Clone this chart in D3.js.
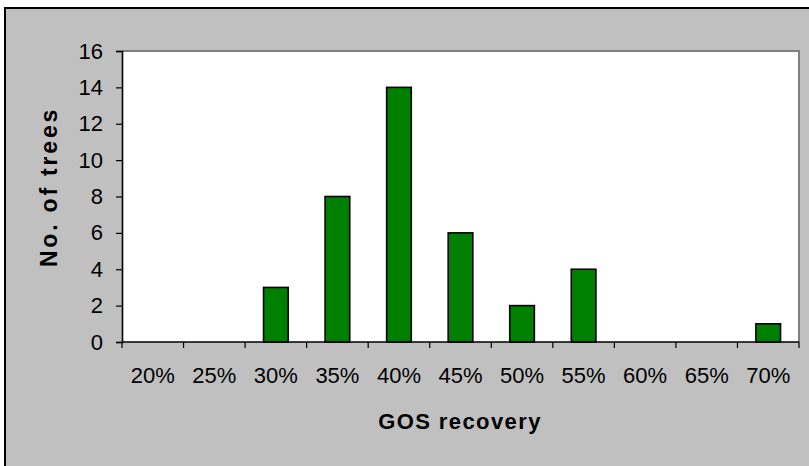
<!DOCTYPE html>
<html><head><meta charset="utf-8">
<script src="https://cdn.jsdelivr.net/npm/d3@7"></script>
<style>
html,body{margin:0;padding:0;background:#fff;}
svg{display:block;}
text{font-family:"Liberation Sans",Arial,sans-serif;fill:#000;}
</style></head>
<body>
<svg id="chart" width="809" height="466"></svg>
<script>
const categories = ["20%","25%","30%","35%","40%","45%","50%","55%","60%","65%","70%"];
const counts = [0,0,3,8,14,6,2,4,0,0,1];
const yTicks = [0,2,4,6,8,10,12,14,16];
const xTitle = "GOS recovery";
const yTitle = "No. of trees";

const svg = d3.select("#chart");
svg.append("rect").attr("x",5).attr("y",8).attr("width",820).attr("height",480)
  .attr("fill","#c0c0c0").attr("stroke","#000").attr("stroke-width",2);

const L=122, R=799, T=51, B=342;
svg.append("rect").attr("x",L).attr("y",T).attr("width",R-L).attr("height",B-T)
  .attr("fill","#fff");
svg.append("path").attr("d",`M${L},${T}H${R}V${B}`).attr("fill","none")
  .attr("stroke","#808080").attr("stroke-width",2);

const x = d3.scaleBand().domain(categories).range([L,R]).paddingInner(0.6).paddingOuter(0.3);
const y = d3.scaleLinear().domain([0,16]).range([B,T]);

svg.append("g").selectAll("rect").data(categories).join("rect")
  .attr("x",d=>x(d)).attr("width",x.bandwidth())
  .attr("y",(d,i)=>y(counts[i])).attr("height",(d,i)=>B-y(counts[i]))
  .attr("fill","#008000").attr("stroke","#000").attr("stroke-width",1.6);

const ya = svg.append("g").attr("transform",`translate(${L},0)`)
  .call(d3.axisLeft(y).tickValues(yTicks).tickSize(6).tickPadding(13).tickFormat(d3.format("d")));
ya.select(".domain").attr("stroke","#000").attr("stroke-width",1.6);
ya.selectAll(".tick line").attr("stroke","#000").attr("stroke-width",1.2);
ya.selectAll("text").attr("font-size",22).attr("font-family","Liberation Sans, Arial, sans-serif").attr("fill","#000");

const step = x.step();
svg.append("line").attr("x1",L).attr("x2",R).attr("y1",B).attr("y2",B)
  .attr("stroke","#000").attr("stroke-width",1.6);
const bounds = d3.range(categories.length+1).map(i=>L+i*step);
svg.append("g").selectAll("line").data(bounds).join("line")
  .attr("x1",d=>d).attr("x2",d=>d).attr("y1",B).attr("y2",B+6)
  .attr("stroke","#000").attr("stroke-width",1.2);
svg.append("g").selectAll("text").data(categories).join("text")
  .attr("x",d=>x(d)+x.bandwidth()/2).attr("y",383)
  .attr("text-anchor","middle").attr("font-size",22).text(d=>d);

svg.append("text").attr("x",460).attr("y",429).attr("text-anchor","middle")
  .attr("font-size",22).attr("font-weight","bold").attr("letter-spacing",1.4).text(xTitle);
svg.append("text").attr("transform","translate(57,187) rotate(-90)").attr("text-anchor","middle")
  .attr("font-size",23).attr("font-weight","bold").attr("letter-spacing",2.8).text(yTitle);
</script>
</body></html>
